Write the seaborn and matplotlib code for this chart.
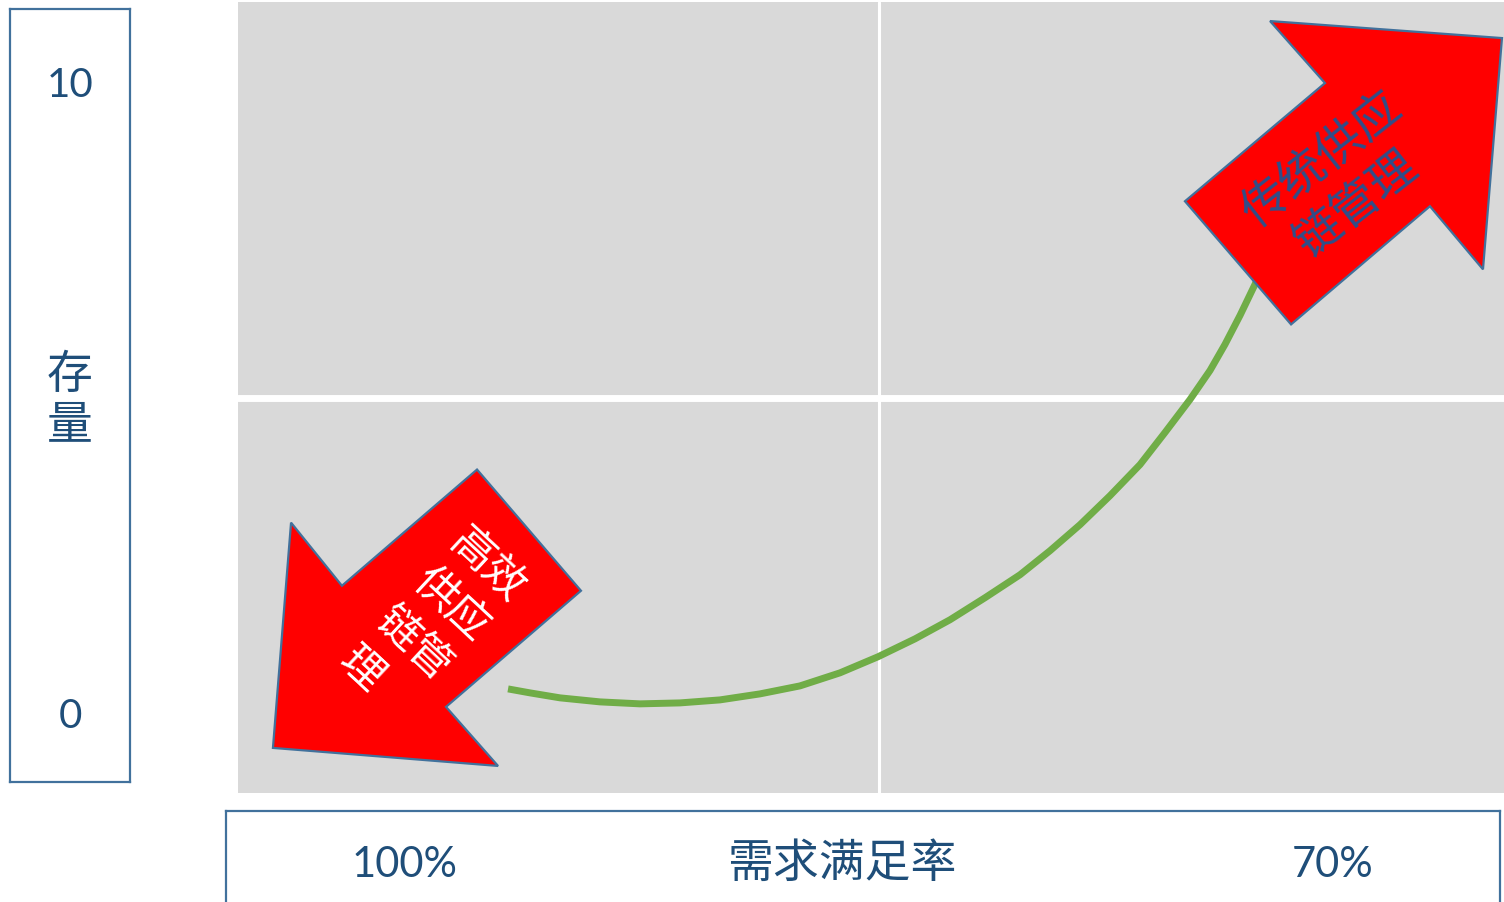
import matplotlib
matplotlib.use("Agg")
import matplotlib.pyplot as plt
import seaborn as sns
import pandas as pd
from matplotlib.patches import Polygon

# ---- data (chart units: x 0-100 demand-fill axis, y 0-100 inventory axis) ----
curve_x = [21.33, 23.06, 25.43, 28.59, 31.75, 34.91, 38.07, 41.23, 44.39, 47.55,
           50.55, 53.48, 56.24, 59.00, 61.77, 64.14, 66.51, 68.88, 71.25, 73.22,
           75.20, 76.78, 77.96, 79.15, 80.33, 81.12]
curve_y = [13.16, 12.66, 12.03, 11.52, 11.27, 11.39, 11.77, 12.53, 13.54, 15.19,
           17.22, 19.49, 21.90, 24.68, 27.59, 30.63, 33.92, 37.59, 41.52, 45.57,
           49.75, 53.42, 56.71, 60.38, 64.30, 67.22]

arrow_up_x = [74.80, 85.86, 81.52, 99.84, 98.34, 94.15, 83.18]
arrow_up_y = [74.81, 89.75, 97.59, 95.44, 66.20, 74.18, 59.24]
arrow_down_x = [18.88, 27.09, 16.43, 20.54, 2.76, 4.19, 8.21]
arrow_down_y = [40.89, 25.57, 10.89, 3.42, 5.70, 34.18, 26.20]

label_up = "传统供应\n链管理"
label_down = "高效\n供应\n链管\n理"
y_labels = ["10", "存\n量", "0"]
x_labels = ["100%", "需求满足率", "70%"]

# ---- style ----
sns.set_theme(style="darkgrid", rc={"axes.facecolor": "#d9d9d9",
                                    "grid.color": "white"})
plt.rcParams["font.family"] = ["Noto Sans CJK SC", "DejaVu Sans"]

TXT = "#1f4e79"
EDGE = "#41719c"

fig = plt.figure(figsize=(15.04, 9.03), dpi=100)
fig.patch.set_facecolor("white")

ax = fig.add_axes([238 / 1504, 1 - 794 / 903, 1266 / 1504, 791 / 903])
ax.set_xlim(0, 100)
ax.set_ylim(0, 100)
ax.set_xticks([50.6])
ax.set_yticks([50.0])
ax.set_xticklabels([])
ax.set_yticklabels([])
ax.tick_params(length=0)
ax.xaxis.grid(True, color="white", linewidth=2.2)
ax.yaxis.grid(True, color="white", linewidth=5.0)
for s in ax.spines.values():
    s.set_visible(False)

df = pd.DataFrame({"x": curve_x, "y": curve_y})
sns.lineplot(data=df, x="x", y="y", sort=False, ax=ax, color="#70ad47",
             linewidth=5.0, zorder=2)
ax.lines[-1].set_solid_capstyle("butt")
ax.lines[-1].set_solid_joinstyle("round")
ax.set_xlabel("")
ax.set_ylabel("")

for xs, ys in [(arrow_up_x, arrow_up_y), (arrow_down_x, arrow_down_y)]:
    ax.add_patch(Polygon(list(zip(xs, ys)), closed=True, facecolor="#ff0000",
                         edgecolor=EDGE, linewidth=1.6, zorder=3))

ax.text(87.0, 77.3, label_up, rotation=38, rotation_mode="anchor",
        ha="center", va="center", multialignment="center", fontsize=34,
        color="#2f4f8a", linespacing=1.2, zorder=4)
ax.text(15.3, 21.4, label_down, rotation=-43, rotation_mode="anchor",
        ha="center", va="center", multialignment="left", fontsize=31,
        color="white", linespacing=1.3, zorder=4)

# ---- left box (y axis labels) ----
axl = fig.add_axes([10 / 1504, 1 - 783 / 903, 120 / 1504, 773 / 903])
axl.set_facecolor("white")
axl.set_xticks([])
axl.set_yticks([])
axl.grid(False)
for s in axl.spines.values():
    s.set_visible(True)
    s.set_color(EDGE)
    s.set_linewidth(1.6)

fig.text(70 / 1504, 1 - 97 / 903, y_labels[0], ha="center", va="baseline",
         fontsize=29, color=TXT, family=["Lato", "DejaVu Sans"])
fig.text(70 / 1504, 1 - 400 / 903, y_labels[1], ha="center", va="center",
         fontsize=33, color=TXT, linespacing=1.05)
fig.text(70 / 1504, 1 - 728 / 903, y_labels[2], ha="center", va="baseline",
         fontsize=29, color=TXT, family=["Lato", "DejaVu Sans"])

# ---- bottom box (x axis labels) ----
axb = fig.add_axes([226 / 1504, -0.05, 1274 / 1504, 1 - 812 / 903 + 0.05])
axb.set_facecolor("white")
axb.set_xticks([])
axb.set_yticks([])
axb.grid(False)
for s in axb.spines.values():
    s.set_visible(True)
    s.set_color(EDGE)
    s.set_linewidth(1.6)

fig.text(405 / 1504, 1 - 877 / 903, x_labels[0], ha="center", va="baseline",
         fontsize=30, color=TXT, family=["Lato", "DejaVu Sans"])
fig.text(842 / 1504, 1 - 864 / 903, x_labels[1], ha="center", va="center",
         fontsize=33, color=TXT)
fig.text(1333 / 1504, 1 - 877 / 903, x_labels[2], ha="center", va="baseline",
         fontsize=30, color=TXT, family=["Lato", "DejaVu Sans"])

fig.savefig("out.png", dpi=100, facecolor="white")
